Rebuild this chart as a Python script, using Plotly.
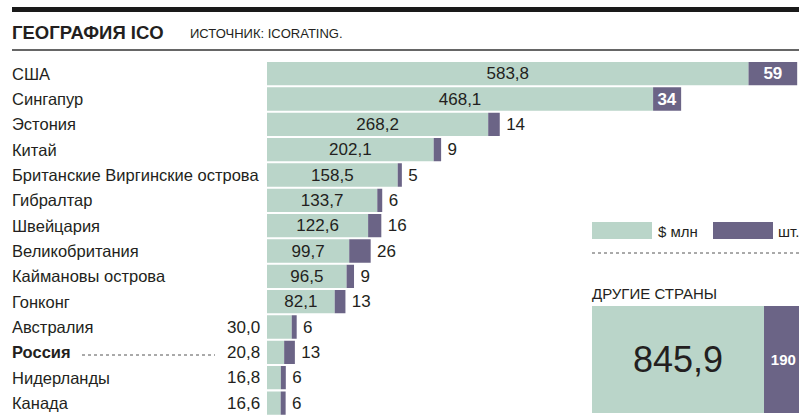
import plotly.graph_objects as go

# ---------------- data ----------------
countries = ["США", "Сингапур", "Эстония", "Китай", "Британские Виргинские острова",
             "Гибралтар", "Швейцария", "Великобритания", "Каймановы острова", "Гонконг",
             "Австралия", "Россия", "Нидерланды", "Канада"]
amount_musd = [583.8, 468.1, 268.2, 202.1, 158.5, 133.7, 122.6, 99.7, 96.5, 82.1,
               30.0, 20.8, 16.8, 16.6]
ico_count = [59, 34, 14, 9, 5, 6, 16, 26, 9, 13, 6, 13, 6, 6]
other_label = "ДРУГИЕ СТРАНЫ"
other_amount = [845.9]
other_count = [190]
title_text = "ГЕОГРАФИЯ ICO"
source_text = "ИСТОЧНИК: ICORATING."
legend_labels = ["$ млн", "шт."]
highlight = "Россия"

# ---------------- style ----------------
W, H = 799, 420
GREEN = "#bad5c9"
PURPLE = "#6b6486"
TXT = "#231f20"
FONT = "Liberation Sans, Arial, sans-serif"


def px(x):
    return x / W


def py(y):
    return 1 - y / H


def fmt(v):
    return f"{v:.1f}".replace(".", ",")


inside_amt = [v >= 50 for v in amount_musd]
inside_cnt = [c >= 30 for c in ico_count]

fig = go.Figure()

fig.add_trace(go.Bar(
    y=countries, x=amount_musd, orientation="h", width=0.92,
    marker=dict(color=GREEN, line=dict(width=0)),
    text=[fmt(v) if ins else "" for v, ins in zip(amount_musd, inside_amt)],
    textposition=["inside" if ins else "none" for ins in inside_amt],
    insidetextanchor="middle", constraintext="none", textangle=0,
    textfont=dict(family=FONT, size=17, color=TXT),
    hoverinfo="skip", xaxis="x", yaxis="y", cliponaxis=True,
))

fig.add_trace(go.Bar(
    y=countries, x=ico_count, base=amount_musd, orientation="h", width=0.92,
    marker=dict(color=PURPLE, line=dict(width=0)),
    text=[f"<b>{c}</b>" if ins else "\u2009" + str(c) for c, ins in zip(ico_count, inside_cnt)],
    textposition=["inside" if ins else "outside" for ins in inside_cnt],
    insidetextanchor="middle", constraintext="none", textangle=0,
    insidetextfont=dict(family=FONT, size=17, color="white"),
    outsidetextfont=dict(family=FONT, size=17, color=TXT),
    hoverinfo="skip", xaxis="x", yaxis="y", cliponaxis=False,
))

# other countries box
fig.add_trace(go.Bar(
    y=[other_label], x=other_amount, orientation="h", width=1,
    marker=dict(color=GREEN, line=dict(width=0)),
    text=[fmt(v) for v in other_amount], textposition="inside",
    insidetextanchor="middle", constraintext="none", textangle=0,
    textfont=dict(family=FONT, size=36, color=TXT),
    hoverinfo="skip", xaxis="x2", yaxis="y2",
))
fig.add_trace(go.Bar(
    y=[other_label], x=other_count, base=other_amount, orientation="h", width=1,
    marker=dict(color=PURPLE, line=dict(width=0)),
    text=[f"<b>{c}</b>" for c in other_count], textposition="inside",
    insidetextanchor="middle", constraintext="none", textangle=0,
    textfont=dict(family=FONT, size=15, color="white"),
    hoverinfo="skip", xaxis="x2", yaxis="y2",
))

annotations = []
# country labels
for c in countries:
    annotations.append(dict(
        xref="paper", yref="y", x=px(10), y=c, xanchor="left", yanchor="middle",
        text=f"<b>{c}</b>" if c == highlight else c, showarrow=False,
        font=dict(family=FONT, size=16.5, color=TXT)))
# amounts outside (left of axis)
for c, v, ins in zip(countries, amount_musd, inside_amt):
    if not ins:
        annotations.append(dict(
            xref="x", yref="y", x=0, y=c, xanchor="right", yanchor="middle",
            xshift=-5, text=fmt(v), showarrow=False,
            font=dict(family=FONT, size=17, color=TXT)))
# title
annotations.append(dict(xref="paper", yref="paper", x=px(10), y=py(33),
                        xanchor="left", yanchor="middle", showarrow=False,
                        text=f"<b>{title_text}</b>",
                        font=dict(family=FONT, size=18.5, color=TXT)))
annotations.append(dict(xref="paper", yref="paper", x=px(188), y=py(33.5),
                        xanchor="left", yanchor="middle", showarrow=False,
                        text=source_text,
                        font=dict(family=FONT, size=13, color=TXT)))
# legend
annotations.append(dict(xref="paper", yref="paper", x=px(656), y=py(231),
                        xanchor="left", yanchor="middle", showarrow=False,
                        text=legend_labels[0],
                        font=dict(family=FONT, size=15, color=TXT)))
annotations.append(dict(xref="paper", yref="paper", x=px(776), y=py(231),
                        xanchor="left", yanchor="middle", showarrow=False,
                        text=legend_labels[1],
                        font=dict(family=FONT, size=15, color=TXT)))
annotations.append(dict(xref="paper", yref="paper", x=px(590), y=py(293),
                        xanchor="left", yanchor="middle", showarrow=False,
                        text=other_label,
                        font=dict(family=FONT, size=15, color=TXT)))

shapes = [
    dict(type="rect", xref="paper", yref="paper", x0=px(12), x1=1, y0=py(12), y1=py(7),
         fillcolor="#1a1a1a", line=dict(width=0)),
    dict(type="line", xref="paper", yref="paper", x0=px(12), x1=1, y0=py(50), y1=py(50),
         line=dict(color="#333333", width=1.3)),
    dict(type="rect", xref="paper", yref="paper", x0=px(592), x1=px(652), y0=py(239), y1=py(222),
         fillcolor=GREEN, line=dict(width=0)),
    dict(type="rect", xref="paper", yref="paper", x0=px(713), x1=px(773), y0=py(239), y1=py(222),
         fillcolor=PURPLE, line=dict(width=0)),
    dict(type="line", xref="paper", yref="paper", x0=px(592), x1=1, y0=py(253), y1=py(253),
         line=dict(color="#555555", width=1, dash="dot")),
    dict(type="line", xref="paper", yref="paper", x0=px(82), x1=px(215), y0=py(355), y1=py(355),
         line=dict(color="#555555", width=1, dash="dot")),
]

ax_common = dict(showgrid=False, zeroline=False, showticklabels=False, showline=False,
                 ticks="", fixedrange=True)

fig.update_layout(
    width=W, height=H, margin=dict(l=0, r=0, t=0, b=0),
    paper_bgcolor="white", plot_bgcolor="white",
    barmode="overlay", showlegend=False,
    xaxis=dict(domain=[px(267), 1], range=[0, 645], **ax_common),
    yaxis=dict(domain=[py(415.7), py(61.0)], type="category", categoryorder="array",
               categoryarray=countries, autorange="reversed", **ax_common),
    xaxis2=dict(domain=[px(592), 1], range=[0, 1018], anchor="y2", **ax_common),
    yaxis2=dict(domain=[py(413), py(306)], type="category", anchor="x2", **ax_common),
    annotations=annotations, shapes=shapes,
    font=dict(family=FONT, color=TXT),
)

fig.write_html(
    "out.html",
    config={"displayModeBar": False, "staticPlot": True},
    post_script="document.body.style.margin='0px';document.body.style.overflow='hidden';",
)
